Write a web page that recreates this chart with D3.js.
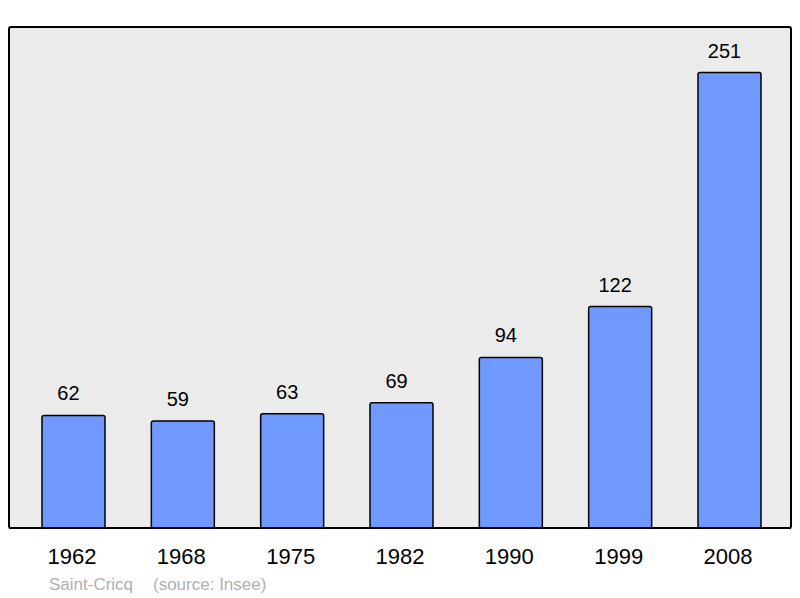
<!DOCTYPE html>
<html>
<head>
<meta charset="utf-8">
<script src="https://cdn.jsdelivr.net/npm/d3@7"></script>
<style>
  body { margin: 0; background: #fff; }
  text { font-family: "Liberation Sans", Arial, sans-serif; }
</style>
</head>
<body>
<div id="chart"></div>
<script>
const years = ["1962", "1968", "1975", "1982", "1990", "1999", "2008"];
const population = [62, 59, 63, 69, 94, 122, 251];
const place = "Saint-Cricq";
const source = "(source: Insee)";

const width = 800, height = 598;
const frame = {left: 9, top: 27, right: 791, bottom: 528};

const svg = d3.select("#chart").append("svg")
  .attr("width", width)
  .attr("height", height);

// plot background
svg.append("rect")
  .attr("x", frame.left)
  .attr("y", frame.top)
  .attr("width", frame.right - frame.left)
  .attr("height", frame.bottom - frame.top)
  .attr("rx", 2)
  .attr("fill", "#ebebeb")
  .attr("stroke", "#000")
  .attr("stroke-width", 2);

const x = d3.scaleBand()
  .domain(years)
  .range([9.2, 793.8])
  .paddingInner(0.4238)
  .paddingOuter(0.3);

const y = d3.scaleLinear()
  .domain([0, d3.max(population) * 1.1])
  .range([frame.bottom, frame.top]);

const data = years.map((yr, i) => ({year: yr, value: population[i]}));

svg.selectAll("rect.bar")
  .data(data)
  .join("rect")
  .attr("class", "bar")
  .attr("x", d => x(d.year))
  .attr("y", d => y(d.value))
  .attr("width", x.bandwidth())
  .attr("height", d => frame.bottom - y(d.value))
  .attr("rx", 2)
  .attr("fill", "#7099ff")
  .attr("stroke", "#000")
  .attr("stroke-width", 1.5);

// redraw baseline over bar bottoms
svg.append("line")
  .attr("x1", frame.left)
  .attr("x2", frame.right)
  .attr("y1", frame.bottom)
  .attr("y2", frame.bottom)
  .attr("stroke", "#000")
  .attr("stroke-width", 2);

svg.selectAll("text.val")
  .data(data)
  .join("text")
  .attr("class", "val")
  .attr("x", d => x(d.year) + x.bandwidth() / 2 - 5)
  .attr("y", d => y(d.value) - 15)
  .attr("text-anchor", "middle")
  .attr("font-size", 20)
  .attr("fill", "#000")
  .text(d => d.value);

svg.selectAll("text.year")
  .data(data)
  .join("text")
  .attr("class", "year")
  .attr("x", d => x(d.year) + x.bandwidth() / 2 - 1.5)
  .attr("y", 564)
  .attr("text-anchor", "middle")
  .attr("font-size", 22)
  .attr("fill", "#000")
  .text(d => d.year);

svg.append("text")
  .attr("x", 49)
  .attr("y", 590)
  .attr("font-size", 17)
  .attr("fill", "#b0b0b0")
  .text(place);

svg.append("text")
  .attr("x", 153)
  .attr("y", 590)
  .attr("font-size", 17)
  .attr("fill", "#b0b0b0")
  .text(source);
</script>
</body>
</html>
